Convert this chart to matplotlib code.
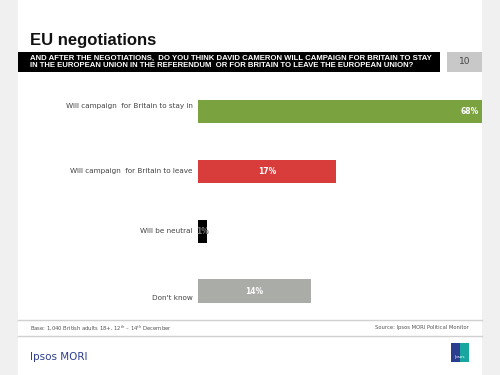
import matplotlib
matplotlib.use('Agg')
from matplotlib import pyplot as plt
from matplotlib.patches import Rectangle

# Chart data
categories = ['Will campaign  for Britain to stay in',
              'Will campaign  for Britain to leave',
              'Will be neutral',
              "Don't know"]
percent_labels = ['68%', '17%', '1%', '14%']
# bar lengths as drawn on the original slide (it is not to scale)
bar_lengths = [68, 33, 2.2, 27]
bar_colours = ['#7aa23f', '#d83d3b', '#000000', '#aaaca8']

title = 'EU negotiations'
question = ('AND AFTER THE NEGOTIATIONS,  DO YOU THINK DAVID CAMERON WILL CAMPAIGN FOR BRITAIN TO STAY\n'
            'IN THE EUROPEAN UNION IN THE REFERENDUM  OR FOR BRITAIN TO LEAVE THE EUROPEAN UNION?')
slide_no = '10'
base_note = 'Base: 1,040 British adults 18+, 12$^{th}$ \u2013 14$^{th}$ December'
source_note = 'Source: Ipsos MORI Political Monitor'

plt.rcParams['font.family'] = ['DejaVu Sans']

fig = plt.figure(figsize=(5, 3.75), dpi=100)
fig.patch.set_facecolor('#f0f0f0')

# Page layer in pixel coordinates
page = fig.add_axes([0, 0, 1, 1])
page.set_xlim(0, 500)
page.set_ylim(375, 0)
page.axis('off')

page.add_patch(Rectangle((18, 0), 464, 375, facecolor='white', edgecolor='none'))
page.text(30, 45, title, fontsize=12, fontweight='bold', color='#111111',
          va='baseline', family='Liberation Sans')

page.add_patch(Rectangle((18, 52), 422, 20, facecolor='black', edgecolor='none'))
page.text(30, 62, question, fontsize=5.6, fontweight='bold', color='white',
          va='center', linespacing=1.0, family='Liberation Sans')
page.add_patch(Rectangle((447, 52), 35, 20, facecolor='#c8c8c8', edgecolor='none'))
page.text(465, 62, slide_no, fontsize=6.5, color='#444444', ha='center', va='center')

# footer
page.plot([18, 482], [319.5, 319.5], color='#d0d0d0', lw=1)
page.plot([18, 482], [336, 336], color='#d0d0d0', lw=1)
page.text(30, 328, base_note, fontsize=3.8, color='#555555', va='center')
page.text(469, 328, source_note, fontsize=3.8, color='#555555', va='center', ha='right')
page.text(30, 357, 'Ipsos MORI', fontsize=7.5, color='#2e3f8f', va='center')

# logo
page.add_patch(Rectangle((451, 343), 18, 19, facecolor='#2b3d8f', edgecolor='none'))
page.add_patch(Rectangle((460, 343), 9, 19, facecolor='#1aa6a0', edgecolor='none'))
page.text(460, 357, 'Ipsos', fontsize=3, color='white', ha='center', va='center')

# Bar chart
ax = fig.add_axes([198 / 500, 1 - 321 / 375, 284 / 500, (321 - 81.6) / 375])
ax.set_xlim(0, 68)
ax.set_ylim(3.5, -0.5)
ax.axis('off')

ypos = range(len(categories))
ax.barh(ypos, bar_lengths, height=0.39, color=bar_colours, edgecolor='none')

# category labels sit at slightly different heights on the slide
label_offsets = [-0.1, 0.0, 0.0, 0.12]
for i, cat in enumerate(categories):
    ax.text(-1.2, i + label_offsets[i], cat, fontsize=5.2, color='#444444',
            ha='right', va='center')

for i, lab in enumerate(percent_labels):
    if i == 0:
        ax.text(bar_lengths[i] - 0.7, i, lab, fontsize=5.5, fontweight='bold',
                color='white', ha='right', va='center')
    elif i == 2:
        ax.text(bar_lengths[i] / 2, i, lab, fontsize=5.5, fontweight='bold',
                color='#777777', ha='center', va='center')
    else:
        ax.text(bar_lengths[i] / 2, i, lab, fontsize=5.5, fontweight='bold',
                color='white', ha='center', va='center')

plt.savefig('out.png', dpi=100, facecolor=fig.get_facecolor())
